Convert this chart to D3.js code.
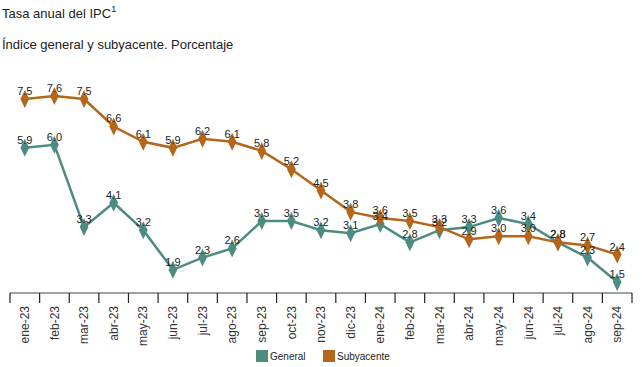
<!DOCTYPE html>
<html><head><meta charset="utf-8">
<script src="https://cdn.jsdelivr.net/npm/d3@7"></script>
<style>body{margin:0;background:#fff;font-family:Arial,"Liberation Sans",sans-serif}</style>
</head><body>
<svg id="c" width="642" height="367"></svg>
<script>
const months = ["ene-23","feb-23","mar-23","abr-23","may-23","jun-23","jul-23","ago-23","sep-23","oct-23","nov-23","dic-23","ene-24","feb-24","mar-24","abr-24","may-24","jun-24","jul-24","ago-24","sep-24"];
const general = [5.9,6.0,3.3,4.1,3.2,1.9,2.3,2.6,3.5,3.5,3.2,3.1,3.4,2.8,3.2,3.3,3.6,3.4,2.8,2.3,1.5];
const subyacente = [7.5,7.6,7.5,6.6,6.1,5.9,6.2,6.1,5.8,5.2,4.5,3.8,3.6,3.5,3.3,2.9,3.0,3.0,2.8,2.7,2.4];
const seriesNames = ["General","Subyacente"];
const colors = ["#4d8c80","#b5661b"];

const svg = d3.select("#c");
const x = d3.scaleBand().domain(months).range([10,632]);
const y = d3.scaleLinear().domain([1.5,7.6]).range([282,96]);
const axisY = 293;

svg.append("text").attr("x",2).attr("y",18).attr("font-size",13).attr("fill","#222")
  .text("Tasa anual del IPC").append("tspan").attr("dy",-6).attr("font-size",9).text("1");
svg.append("text").attr("x",2).attr("y",49).attr("font-size",13).attr("fill","#222")
  .text("Índice general y subyacente. Porcentaje");

const ax = svg.append("g").attr("transform",`translate(0,${axisY})`)
  .call(d3.axisBottom(x).tickSize(0).tickPadding(0));
ax.select(".domain").attr("stroke","#444").attr("stroke-width",1.2).attr("d","M10,0H632");
ax.selectAll(".tick line").remove();
const bounds = months.map(m=>x(m)).concat([632]);
ax.selectAll("line.b").data(bounds).enter().append("line").attr("class","b")
  .attr("x1",d=>d).attr("x2",d=>d).attr("y1",0).attr("y2",10).attr("stroke","#222").attr("stroke-width",1.2);
ax.selectAll(".tick text").attr("transform","rotate(-90)").attr("text-anchor","end")
  .attr("x",-13).attr("y",0).attr("dy","0.35em").attr("font-size",12).attr("fill","#333")
  .attr("font-family","Arial, 'Liberation Sans', sans-serif");

const data = [general, subyacente];
const line = d3.line().x((d,i)=>x(months[i])+x.bandwidth()/2).y(d=>y(d));
const diamond = d3.symbol().type(d3.symbolDiamond).size(60);
data.forEach((s,k)=>{
  const g = svg.append("g");
  g.append("path").datum(s).attr("d",line).attr("fill","none").attr("stroke",colors[k]).attr("stroke-width",2.5);
  g.selectAll("path.m").data(s).enter().append("path").attr("class","m")
    .attr("d",diamond).attr("fill",colors[k])
    .attr("transform",(d,i)=>`translate(${x(months[i])+x.bandwidth()/2},${y(d)}) scale(1.05,1.25)`);
});
data.forEach((s,k)=>{
  svg.append("g").selectAll("text").data(s).enter().append("text")
    .attr("x",(d,i)=>x(months[i])+x.bandwidth()/2).attr("y",d=>y(d)-4)
    .attr("text-anchor","middle").attr("font-size",11).attr("fill","#222")
    .text(d=>d.toFixed(1));
});

const leg = svg.append("g");
const lx = [256,323];
seriesNames.forEach((n,k)=>{
  leg.append("rect").attr("x",lx[k]).attr("y",350).attr("width",12).attr("height",12).attr("fill",colors[k]);
  leg.append("text").attr("x",lx[k]+14).attr("y",360).attr("font-size",10).attr("fill","#222").text(n);
});
</script>
</body></html>
